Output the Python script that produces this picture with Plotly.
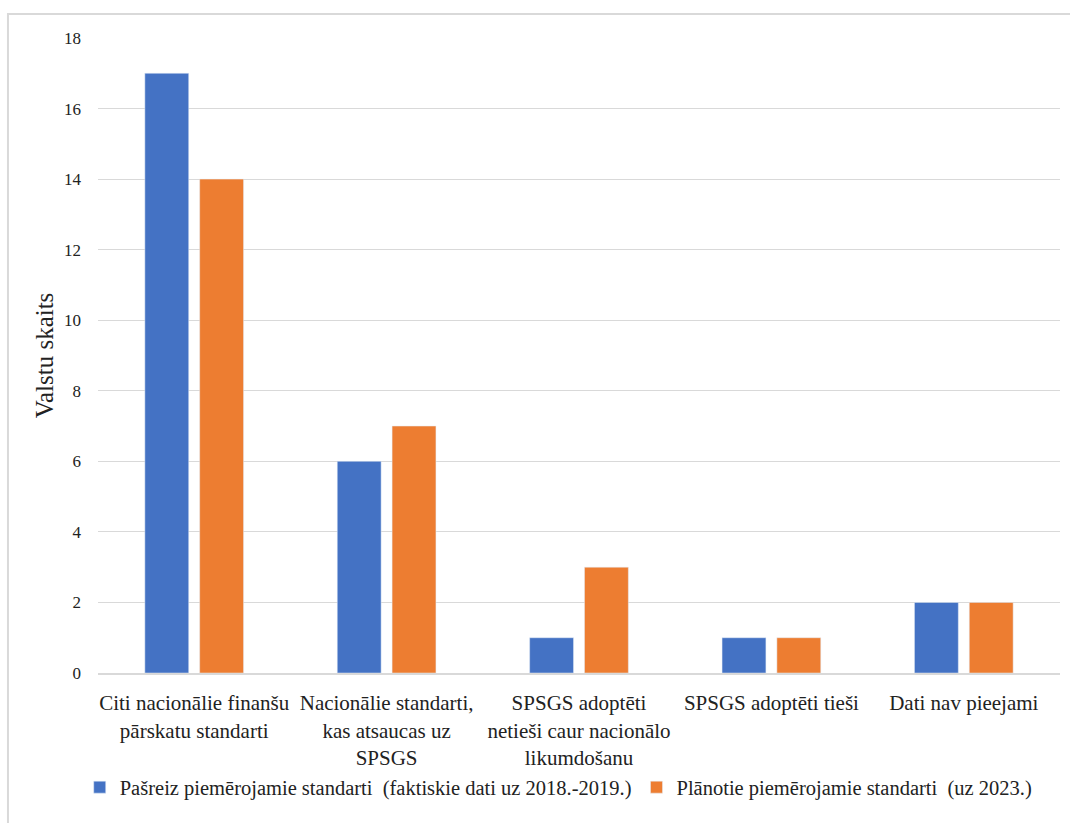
import plotly.graph_objects as go

categories = [
    "Citi nacionālie finanšu<br>pārskatu standarti",
    "Nacionālie standarti,<br>kas atsaucas uz<br>SPSGS",
    "SPSGS adoptēti<br>netieši caur nacionālo<br>likumdošanu",
    "SPSGS adoptēti tieši",
    "Dati nav pieejami",
]
current = [17, 6, 1, 1, 2]
planned = [14, 7, 3, 1, 2]
series_names = [
    "Pašreiz piemērojamie standarti  (faktiskie dati uz 2018.-2019.)",
    "Plānotie piemērojamie standarti  (uz 2023.)",
]
y_ticks = [0, 2, 4, 6, 8, 10, 12, 14, 16, 18]

FONT = "Liberation Serif"

fig = go.Figure()
fig.add_trace(go.Bar(x=categories, y=current, name=series_names[0],
                     marker=dict(color="#4472C4")))
fig.add_trace(go.Bar(x=categories, y=planned, name=series_names[1],
                     marker=dict(color="#ED7D31")))

fig.update_layout(
    width=1070, height=823,
    margin=dict(l=98, r=10, t=38, b=150),
    paper_bgcolor="white", plot_bgcolor="white",
    font=dict(family=FONT, color="#222222", size=17),
    barmode="group", bargap=0.43, bargroupgap=0.2,
    showlegend=True,
    legend=dict(orientation="h", x=-0.019, xanchor="left", y=-0.18, yanchor="middle",
                font=dict(size=20.5, family=FONT), traceorder="normal"),
    xaxis=dict(tickfont=dict(size=21, family=FONT), showgrid=False,
               showline=True, linecolor="#d9d9d9", linewidth=2,
               ticks="", tickangle=0, ticklabelstandoff=10),
    yaxis=dict(range=[0, 18], tickvals=y_ticks, showgrid=True,
               gridcolor="#d9d9d9", gridwidth=1, zeroline=False,
               tickfont=dict(size=17, family=FONT), ticklabelstandoff=16,
               title=dict(text="Valstu skaits", font=dict(size=25, family=FONT), standoff=3)),
    shapes=[dict(type="rect", xref="paper", yref="paper",
                 x0=-0.0936, x1=1.2, y0=-0.5, y1=1.0378,
                 line=dict(color="#d9d9d9", width=2), fillcolor="rgba(0,0,0,0)",
                 layer="below")],
)

fig.write_html("out.html")
